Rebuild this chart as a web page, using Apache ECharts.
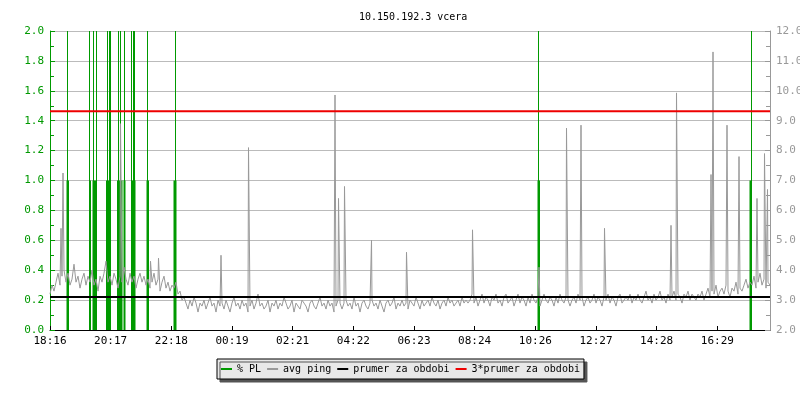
<!DOCTYPE html>
<html><head><meta charset="utf-8">
<script src="https://cdn.jsdelivr.net/npm/echarts@6/dist/echarts.min.js"></script>
<style>html,body{margin:0;padding:0;background:#fff}#c{width:800px;height:400px}</style>
</head><body><div id="c"></div>
<script>
const titleText = '10.150.192.3 vcera';
const xLabels = ['18:16','20:17','22:18','00:19','02:21','04:22','06:23','08:24','10:26','12:27','14:28','16:29'];
const xTickSec = 7280;          // label spacing in seconds
const spanSec = 86400;          // one day
const stepMin = 4;              // baseline sample spacing (minutes)

// avg ping baseline (ms), one value every 4 minutes from 18:16
const pingBase = [
3.2,3.5,3.3,3.6,3.9,3.5,3.8,4.0,3.6,3.9,
3.5,3.7,4.2,3.6,3.8,3.4,3.7,3.9,3.5,3.8,
3.6,4.0,3.5,3.7,3.3,3.8,3.6,3.9,4.3,3.6,
3.8,3.5,3.9,3.7,3.4,3.8,3.6,4.1,3.7,3.5,
3.9,3.6,3.8,3.4,3.7,3.9,3.6,3.8,3.5,3.7,
3.4,3.6,3.9,3.5,3.7,3.3,3.6,3.8,3.4,3.6,
3.3,3.5,
3.4,3.6,3.2,3.3,3.0,3.1,
2.9,2.7,3.0,2.8,3.1,2.9,2.6,2.9,2.8,3.0,
2.7,2.9,3.1,2.8,2.9,2.6,3.0,2.8,2.9,2.7,
3.0,2.8,2.6,2.9,3.1,2.8,2.9,2.7,3.0,2.8,
2.9,2.6,2.8,3.0,2.7,2.9,3.2,2.8,2.9,2.7,
2.8,3.0,2.6,2.9,2.8,3.0,2.7,2.9,2.8,3.1,
2.9,2.7,2.8,3.0,2.6,2.9,2.8,2.7,3.0,2.9,
2.8,2.6,2.9,3.0,2.8,2.7,2.9,3.1,2.8,2.9,
2.7,3.0,2.8,2.9,2.6,2.8,3.0,2.9,2.7,2.9,
3.0,2.8,2.9,2.7,3.1,2.8,2.9,2.6,2.9,3.0,
2.8,2.7,2.9,3.0,2.8,2.9,2.7,3.0,2.8,2.6,
2.9,3.0,2.8,2.9,3.1,2.7,2.9,2.8,3.0,2.8,
2.9,2.7,3.0,2.9,2.8,3.1,2.9,2.7,3.0,2.8,
2.9,3.0,2.8,3.1,2.9,2.8,3.0,2.7,2.9,3.0,
2.8,3.1,2.9,3.0,2.8,2.9,3.0,2.8,3.1,2.9,
3.0,2.9,
3.0,3.2,2.9,3.1,2.8,3.0,3.2,2.9,3.1,3.0,
2.8,3.1,3.0,3.2,2.9,3.0,2.8,3.1,3.2,2.9,
3.0,3.1,2.8,3.0,3.2,2.9,3.1,3.0,2.8,3.1,
2.9,3.2,3.0,2.9,3.1,2.8,3.0,3.2,3.0,2.9,
3.1,3.0,2.8,3.1,2.9,3.2,3.0,2.9,3.1,3.0,
2.8,3.0,3.1,2.9,3.2,3.0,3.1,2.8,3.0,3.1,
2.9,3.0,3.2,2.9,3.1,3.0,2.8,3.1,3.0,3.2,
2.9,3.1,3.0,2.8,3.1,3.2,2.9,3.0,3.1,3.0,
3.2,2.9,3.1,3.0,3.2,3.0,2.9,3.1,3.3,3.0,
3.1,2.9,3.2,3.0,3.1,3.3,3.0,3.1,2.9,3.2,
3.0,3.1,3.3,3.0,3.2,3.1,2.9,3.2,3.1,3.3,
3.0,3.2,3.1,3.0,3.2,
3.1,3.3,3.0,3.2,3.4,3.1,3.3,3.2,3.5,3.1,
3.3,3.4,3.2,3.5,3.3,3.1,3.4,3.3,3.6,3.2,
3.4,3.3,3.5,3.7,3.4,3.6,3.5,3.8,3.4,3.6,
3.9,3.5,3.7,3.4,3.6,3.5
];
// avg ping spikes: [minute from start, ms]
const pingSpikes = [
[22,5.4],[26,7.25],[141,8.9],[201,4.3],[217,4.4],[342,4.5],[397,8.1],[570,9.86],[577,6.4],[589,6.8],
[643,5.0],[713,4.6],[845,5.35],[978,4.1],[1033,8.75],[1062,8.85],[1109,5.4],[1242,5.5],[1253,9.93],
[1322,7.2],[1326,11.3],[1354,8.85],[1378,7.8],[1414,6.4],[1429,7.9],[1435,6.7]
];
// packet loss: [start minute, end minute, %]
const plBars = [
[33,38,1.0],[79,82,1.0],[85,93,1.0],[112,122,1.0],[134,140,1.0],[140,145,1.0],[147,151,1.0],
[162,171,1.0],[193,198,1.0],[247,253,1.0],[975,980,1.0],[1399,1404,1.0],
[34,36,100],[78,80,100],[86,88,100],[92,94,100],[114,116,100],[118,120,100],[120,122,100],
[136,138,100],[140,142,100],[148,150,100],[162,164,100],[166,168,100],[168,170,100],
[194,196,100],[250,252,100],[976,978,100],[1402,1404,100]
];
const meanPing = 3.107;
const tripleMean = 9.32;

const GREEN = '#009900', GRAY = '#999999', FONT = 'DejaVu Sans Mono';

const pingData = pingBase.map((v, i) => [i * stepMin * 60, v])
  .concat(pingSpikes.map(d => [d[0] * 60, d[1]]))
  .sort((a, b) => a[0] - b[0]);
const plData = plBars.map(d => [d[0] * 60, d[1] * 60, d[2]]);

const chart = echarts.init(document.getElementById('c'), null, {renderer: 'canvas'});
chart.setOption({
  animation: false,
  backgroundColor: '#fff',
  title: {text: titleText, left: 354, top: 7,
    textStyle: {fontFamily: FONT, fontSize: 10, fontWeight: 'normal', color: '#000'}},
  grid: {left: 50, right: 30, top: 31, bottom: 70, containLabel: false, outerBoundsMode: 'none'},
  legend: {
    left: 217, top: 359, padding: [5, 4, 5, 4], itemGap: 6, itemWidth: 11, itemHeight: 2,
    backgroundColor: '#e8e8e8', borderColor: '#000', borderWidth: 1, borderRadius: 0,
    shadowColor: '#555', shadowOffsetX: 3, shadowOffsetY: 3, shadowBlur: 0,
    selectedMode: false,
    textStyle: {fontFamily: FONT, fontSize: 10, color: '#000'},
    data: [
      {name: '% PL', icon: 'rect'}, {name: 'avg ping', icon: 'rect'},
      {name: 'prumer za obdobi', icon: 'rect'}, {name: '3*prumer za obdobi', icon: 'rect'}
    ]
  },
  xAxis: {
    type: 'value', min: 0, max: spanSec, interval: xTickSec,
    axisLine: {show: true, lineStyle: {color: '#000', width: 1}},
    axisTick: {show: true, inside: true, length: 4, lineStyle: {color: '#000'}},
    splitLine: {show: false},
    axisLabel: {fontFamily: FONT, fontSize: 11, color: '#000', margin: 6, showMaxLabel: false,
      formatter: v => (v % xTickSec === 0 && xLabels[v / xTickSec]) ? xLabels[v / xTickSec] : ''}
  },
  yAxis: [
    {type: 'value', min: 0, max: 2, interval: 0.2, position: 'left',
      axisLine: {show: true, lineStyle: {color: GREEN}},
      axisTick: {show: true, inside: true, length: 5, lineStyle: {color: GREEN}},
      minorTick: {show: true, splitNumber: 2, length: 4, lineStyle: {color: GREEN}},
      splitLine: {show: true, lineStyle: {color: '#bbbbbb', width: 1}},
      axisLabel: {fontFamily: FONT, fontSize: 11, color: GREEN, margin: 6, formatter: v => v.toFixed(1)}},
    {type: 'value', min: 2, max: 12, interval: 1, position: 'right',
      axisLine: {show: true, lineStyle: {color: GRAY}},
      axisTick: {show: true, inside: true, length: 5, lineStyle: {color: GRAY}},
      minorTick: {show: true, splitNumber: 2, length: 4, lineStyle: {color: GRAY}},
      splitLine: {show: false},
      axisLabel: {fontFamily: FONT, fontSize: 11, color: GRAY, margin: 6, formatter: v => v.toFixed(1)}}
  ],
  series: [
    {name: '% PL', type: 'custom', yAxisIndex: 0, z: 2,
      itemStyle: {color: GREEN},
      encode: {x: [0, 1], y: 2},
      data: plData,
      renderItem: (params, api) => {
        const p0 = api.coord([api.value(0), api.value(2)]);
        const p1 = api.coord([api.value(1), 0]);
        const cs = params.coordSys;
        const r = echarts.graphic.clipRectByRect(
          {x: p0[0], y: p0[1], width: p1[0] - p0[0], height: p1[1] - p0[1]},
          {x: cs.x, y: cs.y, width: cs.width, height: cs.height});
        return r ? {type: 'rect', shape: r, style: {fill: GREEN}} : null;
      }},
    {name: 'avg ping', type: 'line', yAxisIndex: 1, z: 3, symbol: 'none',
      itemStyle: {color: GRAY}, lineStyle: {color: GRAY, width: 1}, data: pingData},
    {name: 'prumer za obdobi', type: 'line', yAxisIndex: 1, z: 4, symbol: 'none',
      itemStyle: {color: '#000'}, lineStyle: {color: '#000', width: 2},
      data: [[0, meanPing], [spanSec, meanPing]]},
    {name: '3*prumer za obdobi', type: 'line', yAxisIndex: 1, z: 4, symbol: 'none',
      itemStyle: {color: '#ee0000'}, lineStyle: {color: '#ee0000', width: 2},
      data: [[0, tripleMean], [spanSec, tripleMean]]}
  ]
});
</script>
</body></html>
